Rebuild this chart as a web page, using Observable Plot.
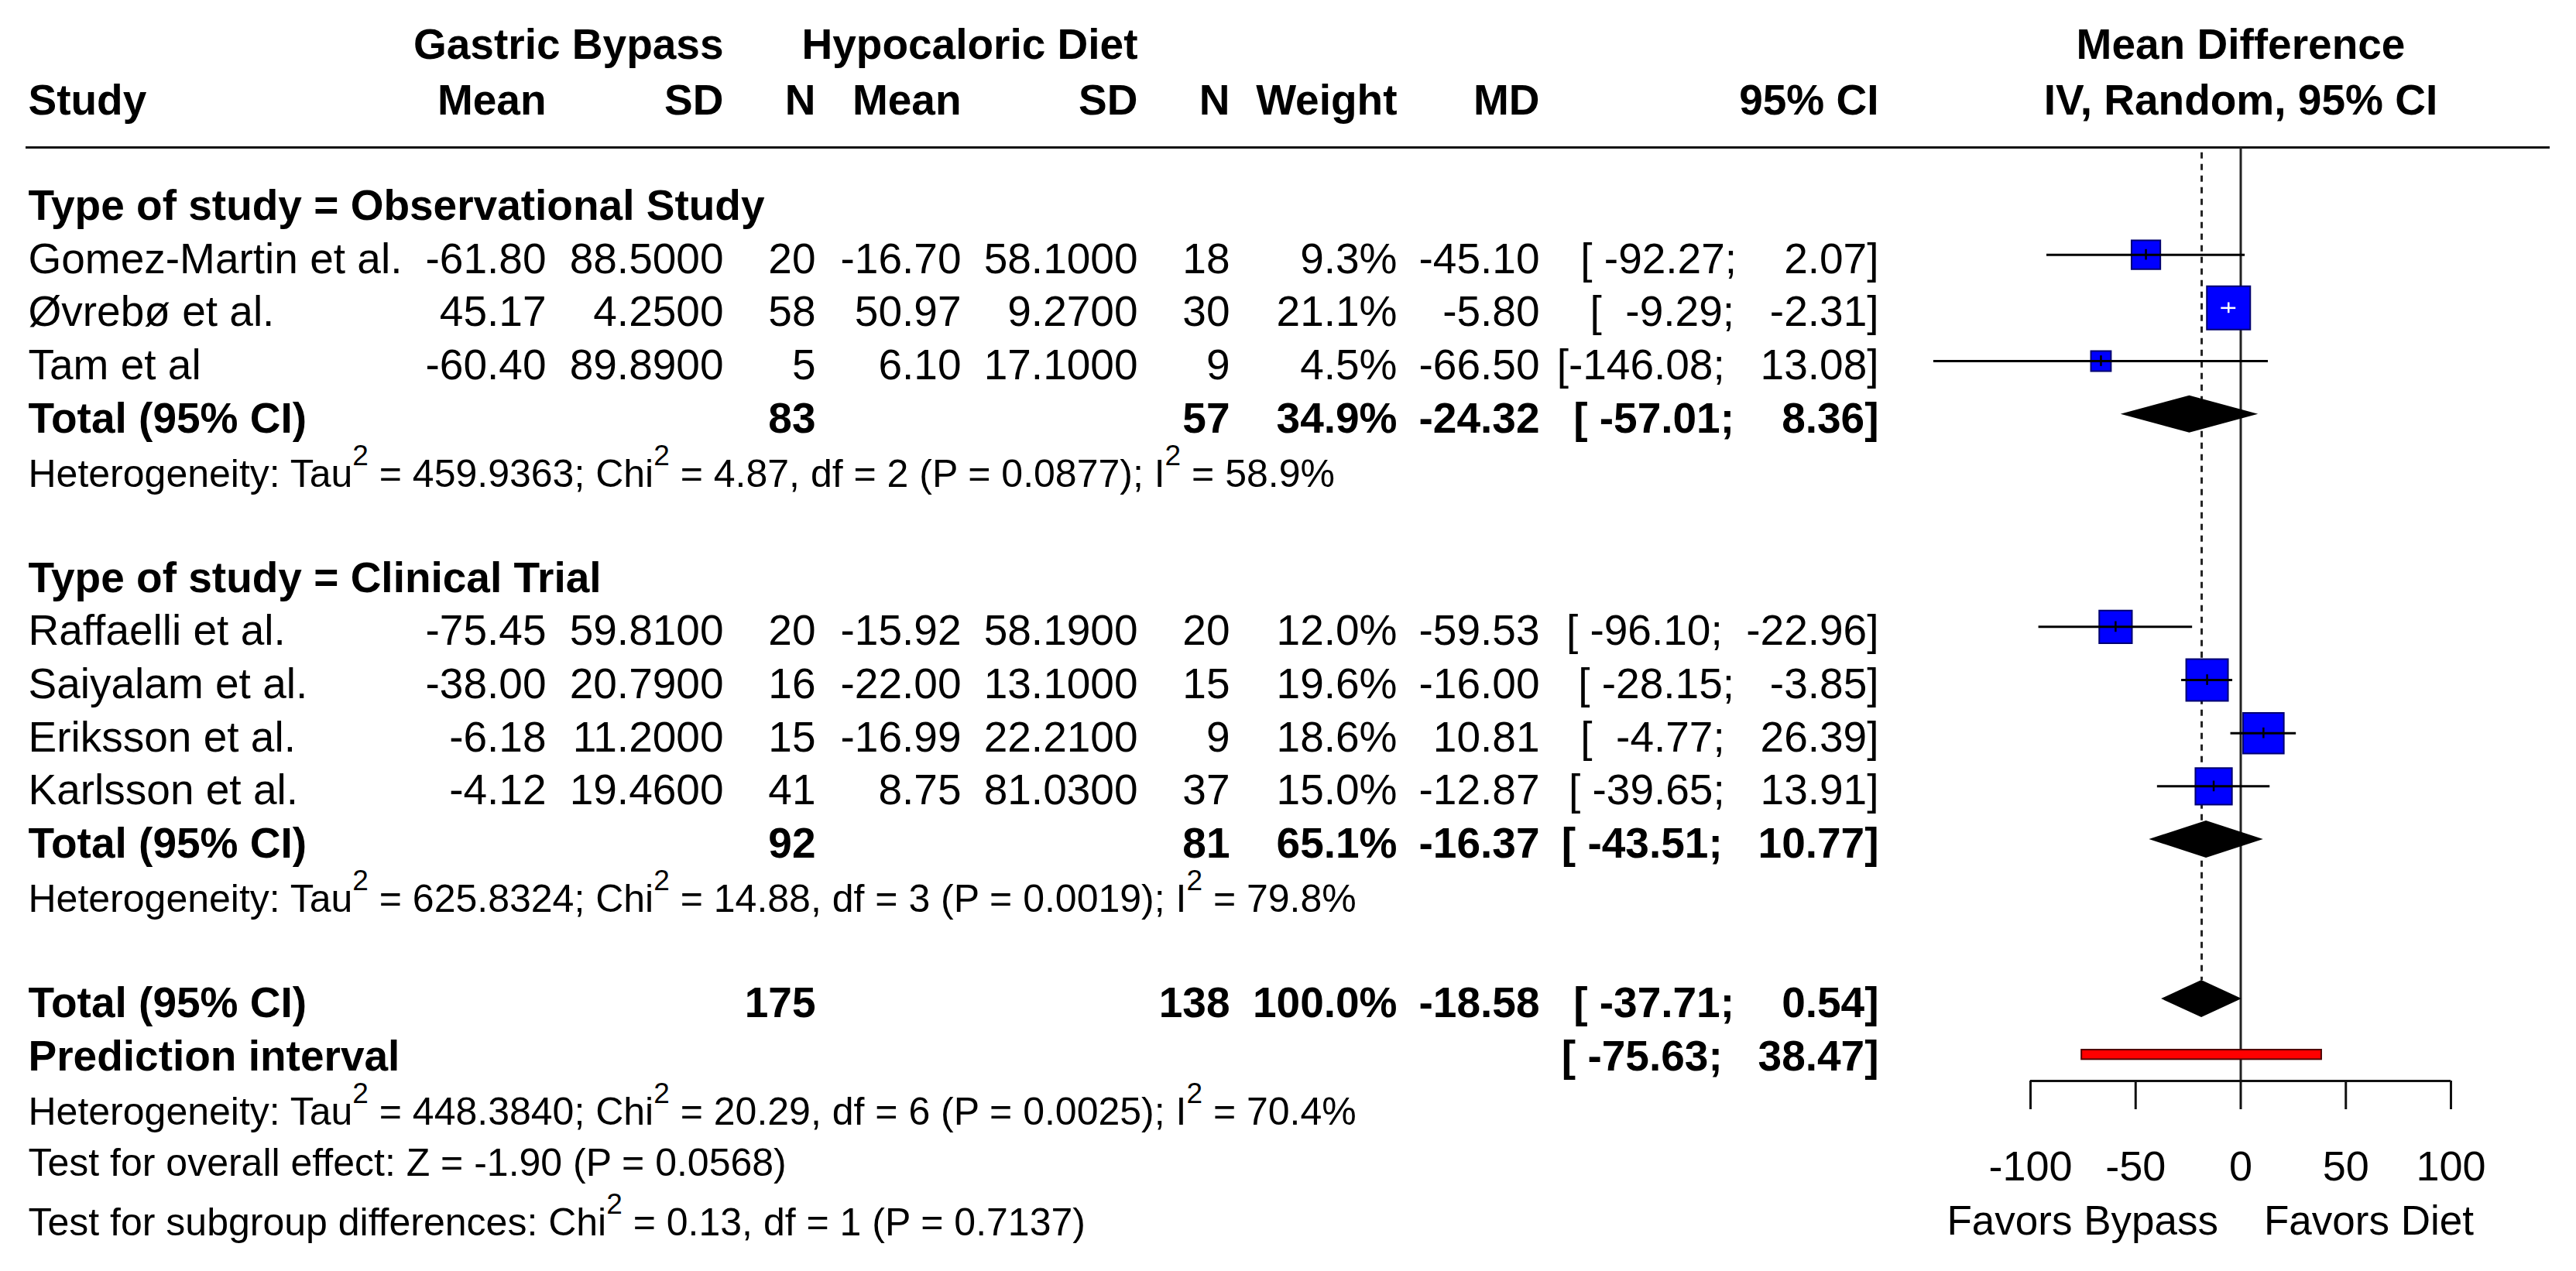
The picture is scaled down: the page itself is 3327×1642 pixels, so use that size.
<!DOCTYPE html>
<html>
<head>
<meta charset="utf-8">
<script src="https://cdn.jsdelivr.net/npm/d3@7"></script>
<script src="https://cdn.jsdelivr.net/npm/@observablehq/plot@0.6"></script>
<style>
html, body { margin: 0; padding: 0; background: #fff; overflow: hidden; }
#chart svg { display: block; }
</style>
</head>
<body>
<div id="chart"></div>
<script>
// ---------------- data ----------------
const studies   = ["Gomez-Martin et al.", "Øvrebø et al.", "Tam et al", "Raffaelli et al.", "Saiyalam et al.", "Eriksson et al.", "Karlsson et al."];
const studyType = ["Observational Study", "Observational Study", "Observational Study", "Clinical Trial", "Clinical Trial", "Clinical Trial", "Clinical Trial"];
const gbMean = [-61.80, 45.17, -60.40, -75.45, -38.00, -6.18, -4.12];
const gbSD   = [88.5, 4.25, 89.89, 59.81, 20.79, 11.2, 19.46];
const gbN    = [20, 58, 5, 20, 16, 15, 41];
const hdMean = [-16.70, 50.97, 6.10, -15.92, -22.00, -16.99, 8.75];
const hdSD   = [58.1, 9.27, 17.1, 58.19, 13.1, 22.21, 81.03];
const hdN    = [18, 30, 9, 20, 15, 9, 37];
const weight = [9.3, 21.1, 4.5, 12.0, 19.6, 18.6, 15.0];
const md      = [-45.10, -5.80, -66.50, -59.53, -16.00, 10.81, -12.87];
const ciLower = [-92.27, -9.29, -146.08, -96.10, -28.15, -4.77, -39.65];
const ciUpper = [2.07, -2.31, 13.08, -22.96, -3.85, 26.39, 13.91];

const groups      = ["Observational Study", "Clinical Trial"];
const groupGbN    = [83, 92];
const groupHdN    = [57, 81];
const groupWeight = [34.9, 65.1];
const groupMD     = [-24.32, -16.37];
const groupLower  = [-57.01, -43.51];
const groupUpper  = [8.36, 10.77];
const groupHet = [
  "Heterogeneity: Tau^2 = 459.9363; Chi^2 = 4.87, df = 2 (P = 0.0877); I^2 = 58.9%",
  "Heterogeneity: Tau^2 = 625.8324; Chi^2 = 14.88, df = 3 (P = 0.0019); I^2 = 79.8%"
];

const totalGbN = 175, totalHdN = 138, totalWeight = 100.0;
const totalMD = -18.58, totalLower = -37.71, totalUpper = 0.54;
const predLower = -75.63, predUpper = 38.47;
const overallHet = "Heterogeneity: Tau^2 = 448.3840; Chi^2 = 20.29, df = 6 (P = 0.0025); I^2 = 70.4%";
const overallTest = "Test for overall effect: Z = -1.90 (P = 0.0568)";
const subgroupTest = "Test for subgroup differences: Chi^2 = 0.13, df = 1 (P = 0.7137)";

const xTicks = [-100, -50, 0, 50, 100];
const leftLabel = "Favors Bypass", rightLabel = "Favors Diet";

// ---------------- layout ----------------
const W = 3327, H = 1642;
const ROW0 = 260, ROWH = 68.67;
const ML = 33, MR = 34, MB = 246;
const FONT = "'Liberation Sans', Arial, Helvetica, sans-serif";
const NB = "\u00a0";
const f2 = v => v.toFixed(2);
const ci = (lo, hi) => "[" + f2(lo).padStart(7, NB) + ";" + NB + f2(hi).padStart(7, NB) + "]";
const pct = v => v.toFixed(1) + "%";

const cols = {
  study: {x: 36, anchor: "start"},
  gbMean: {x: 705}, gbSD: {x: 934}, gbN: {x: 1053},
  hdMean: {x: 1241}, hdSD: {x: 1469}, hdN: {x: 1588},
  weight: {x: 1804}, md: {x: 1988}, ci: {x: 2426}
};

const cells = [];
const add = (row, col, text, bold = false, size = 55) => cells.push({row, col, text, bold, size});

add(-3.03, "gbSD", "Gastric Bypass", true);
add(-3.03, "hdSD", "Hypocaloric Diet", true);
const hdr = {study: "Study", gbMean: "Mean", gbSD: "SD", gbN: "N", hdMean: "Mean", hdSD: "SD", hdN: "N", weight: "Weight", md: "MD", ci: "95% CI"};
for (const k in hdr) add(-1.98, k, hdr[k], true);

const studyData = [];
const diamonds = [];
let r = 0;
groups.forEach((g, gi) => {
  add(r, "study", "Type of study = " + g, true);
  r++;
  studyType.forEach((t, i) => {
    if (t !== g) return;
    add(r, "study", studies[i]);
    add(r, "gbMean", f2(gbMean[i]));
    add(r, "gbSD", gbSD[i].toFixed(4));
    add(r, "gbN", String(gbN[i]));
    add(r, "hdMean", f2(hdMean[i]));
    add(r, "hdSD", hdSD[i].toFixed(4));
    add(r, "hdN", String(hdN[i]));
    add(r, "weight", pct(weight[i]));
    add(r, "md", f2(md[i]));
    add(r, "ci", ci(ciLower[i], ciUpper[i]));
    studyData.push({row: r, md: md[i], lo: ciLower[i], hi: ciUpper[i], w: weight[i]});
    r++;
  });
  add(r, "study", "Total (95% CI)", true);
  add(r, "gbN", String(groupGbN[gi]), true);
  add(r, "hdN", String(groupHdN[gi]), true);
  add(r, "weight", pct(groupWeight[gi]), true);
  add(r, "md", f2(groupMD[gi]), true);
  add(r, "ci", ci(groupLower[gi], groupUpper[gi]), true);
  diamonds.push({id: g, row: r, est: groupMD[gi], lo: groupLower[gi], hi: groupUpper[gi]});
  add(r + 1.04, "study", groupHet[gi], false, 50);
  r += 3;
});
const totalRow = r;
add(r, "study", "Total (95% CI)", true);
add(r, "gbN", String(totalGbN), true);
add(r, "hdN", String(totalHdN), true);
add(r, "weight", pct(totalWeight), true);
add(r, "md", f2(totalMD), true);
add(r, "ci", ci(totalLower, totalUpper), true);
diamonds.push({id: "overall", row: r, est: totalMD, lo: totalLower, hi: totalUpper});
const predRow = r + 1;
add(predRow, "study", "Prediction interval", true);
add(predRow, "ci", ci(predLower, predUpper), true);
add(r + 2.04, "study", overallHet, false, 50);
add(r + 3, "study", overallTest, false, 50);
add(r + 4.13, "study", subgroupTest, false, 50);

const ruleRow = -1.02;
const axisRow = (H - MB - ROW0) / ROWH;

// box side in px: 12.2*sqrt(weight); CI drawn white when it lies inside the box
const pxPerUnit = (3165 - 2622) / 200;
studyData.forEach(d => { d.inside = (d.hi - d.lo) * pxPerUnit < 12.2 * Math.sqrt(d.w); });

const diamondPts = diamonds.flatMap(d => [
  {id: d.id, y: d.row - 0.35, x1: d.est, x2: d.est},
  {id: d.id, y: d.row, x1: d.lo, x2: d.hi},
  {id: d.id, y: d.row + 0.35, x1: d.est, x2: d.est}
]);

const textMarks = d3.groups(cells, d => `${d.col}|${d.bold}|${d.size}`).map(([k, arr]) => {
  const c = cols[arr[0].col];
  return Plot.text(arr, {
    y: "row", text: "text", frameAnchor: "left", dx: c.x - ML, dy: 6,
    textAnchor: c.anchor || "end", fontWeight: arr[0].bold ? "bold" : "normal",
    fontSize: arr[0].size, fill: "#000"
  });
});

const chart = Plot.plot({
  width: W, height: H,
  marginLeft: ML, marginRight: MR, marginTop: 0, marginBottom: MB,
  style: {fontFamily: FONT, fontSize: "55px", background: "#fff", color: "#000"},
  x: {domain: [-100, 100], range: [2622, 3165]},
  y: {domain: [0, 1], range: [ROW0, ROW0 + ROWH], axis: null},
  r: {domain: [0, 100], range: [0, 68.8]},
  marks: [
    Plot.ruleY([ruleRow], {stroke: "#111", strokeWidth: 3}),
    Plot.ruleX([totalMD], {y1: ruleRow + 0.1, y2: totalRow - 0.35, stroke: "#222", strokeWidth: 3, strokeDasharray: "8,7"}),
    Plot.ruleX([0], {y1: ruleRow, y2: axisRow, stroke: "#222", strokeWidth: 3}),
    Plot.dot(studyData, {x: "md", y: "row", r: "w", symbol: "square", fill: "#0000ff", stroke: "#000070", strokeWidth: 2}),
    Plot.ruleY(studyData.filter(d => !d.inside), {y: "row", x1: "lo", x2: "hi", stroke: "#000", strokeWidth: 3}),
    Plot.ruleY(studyData.filter(d => d.inside), {y: "row", x1: "lo", x2: "hi", stroke: "#fff", strokeWidth: 2.5}),
    Plot.ruleX(studyData.filter(d => !d.inside), {x: "md", y1: d => d.row - 0.1, y2: d => d.row + 0.1, stroke: "#000", strokeWidth: 2.5}),
    Plot.ruleX(studyData.filter(d => d.inside), {x: "md", y1: d => d.row - 0.1, y2: d => d.row + 0.1, stroke: "#fff", strokeWidth: 2.5}),
    Plot.areaX(diamondPts, {y: "y", x1: "x1", x2: "x2", z: "id", fill: "#000"}),
    Plot.rect([{lo: predLower, hi: predUpper, row: predRow}], {x1: "lo", x2: "hi", y1: d => d.row + 0.05 - 0.09, y2: d => d.row + 0.05 + 0.09, fill: "#ff0000", stroke: "#500000", strokeWidth: 2}),
    Plot.ruleY([axisRow], {x1: xTicks[0], x2: xTicks[xTicks.length - 1], stroke: "#111", strokeWidth: 3}),
    Plot.axisX({ticks: xTicks, tickFormat: d => String(d), tickSize: 37, tickPadding: 53, fontSize: 54, strokeWidth: 3, stroke: "#111", label: null}),
    Plot.text([{x: 0, row: -3.03, t: "Mean Difference"}, {x: 0, row: -1.98, t: "IV, Random, 95% CI"}], {x: "x", y: "row", text: "t", dy: 6, textAnchor: "middle", fontWeight: "bold", fontSize: 55}),
    Plot.text([{x: 0, row: 19.1, t: leftLabel}], {x: "x", y: "row", text: "t", dx: -29, dy: 6, textAnchor: "end", fontSize: 53}),
    Plot.text([{x: 0, row: 19.1, t: rightLabel}], {x: "x", y: "row", text: "t", dx: 30, dy: 6, textAnchor: "start", fontSize: 53}),
    ...textMarks
  ]
});

// superscripts for "^2"
const NS = "http://www.w3.org/2000/svg";
chart.querySelectorAll("text").forEach(t => {
  if (!t.textContent.includes("^2")) return;
  const parts = t.textContent.split("^2");
  t.textContent = "";
  parts.forEach((p, i) => {
    const s = document.createElementNS(NS, "tspan");
    s.textContent = p;
    if (i > 0) s.setAttribute("dy", "28");
    t.appendChild(s);
    if (i < parts.length - 1) {
      const sup = document.createElementNS(NS, "tspan");
      sup.textContent = "2";
      sup.setAttribute("dy", "-28");
      sup.setAttribute("font-size", "37");
      t.appendChild(sup);
    }
  });
});

document.getElementById("chart").appendChild(chart);
</script>
</body>
</html>
